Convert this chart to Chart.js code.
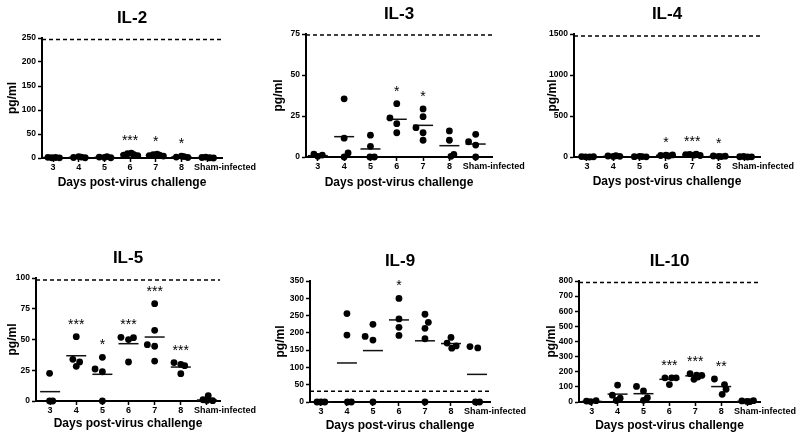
<!DOCTYPE html>
<html>
<head>
<meta charset="utf-8">
<script src="https://cdn.jsdelivr.net/npm/chart.js@4"></script>
<style>
  body { margin: 0; background: #fff; }
  #wrap { position: relative; width: 800px; height: 437px; }
  canvas { position: absolute; }
</style>
</head>
<body>
<div id="wrap">
  <canvas id="c1"></canvas>
  <canvas id="c2"></canvas>
  <canvas id="c3"></canvas>
  <canvas id="c4"></canvas>
  <canvas id="c5"></canvas>
  <canvas id="c6"></canvas>
</div>
<script>
// categories
const days = ['3', '4', '5', '6', '7', '8', 'Sham-infected'];

// IL-2
const il2Values = [[1.5, 0.5, 1, 0.3], [1, 3, 2, 0.5], [2, 1, 3, 0.5], [6, 9, 10, 7, 5], [5, 7, 8, 6, 4], [2, 4, 3, 1], [1, 2, 0.5, 0]];
const il2Jitter = [[-0.2, -0.05, 0.1, 0.25], [-0.2, 0, 0.1, 0.25], [-0.2, 0, 0.1, 0.25], [-0.25, -0.1, 0.05, 0.15, 0.3], [-0.25, -0.1, 0.05, 0.15, 0.3], [-0.2, 0, 0.1, 0.25], [-0.2, -0.05, 0.1, 0.25]];
const il2Medians = [1, 1.5, 1.5, 7.5, 6, 2.5, 0.8];
const il2Stars = ['', '', '', '***', '*', '*', ''];
const il2Limit = 247;
const il2Ticks = [0, 50, 100, 150, 200, 250];

// IL-3
const il3Values = [[1.8, 0.4, 1.2], [35.5, 11.5, 2.5, 0], [13.3, 6.5, 0, 0], [23.8, 32.5, 20.3, 14.8], [17.9, 29.3, 24.6, 14.8, 10.2], [15.9, 10.2, 1.6, 0.4], [9.3, 13.8, 7.3, 0]];
const il3Jitter = [[-0.15, 0, 0.17], [0, 0, 0.15, 0], [0, 0, -0.02, 0.15], [-0.26, 0, 0, 0], [-0.27, 0, 0, 0, 0], [0, 0, 0.17, 0.06], [-0.27, 0, 0, 0]];
const il3Medians = [0.8, 12.4, 4.9, 23, 19.3, 6.9, 7.9];
const il3Stars = ['', '', '', '*', '*', '', ''];
const il3Limit = 74.4;
const il3Ticks = [0, 25, 50, 75];

// IL-4
const il4Values = [[5, 2, 0, 3], [12, 6, 15, 8], [4, 8, 5, 2], [18, 22, 12, 25], [28, 32, 22, 35, 18], [12, 8, 5, 10], [3, 6, 0, 2]];
const il4Jitter = [[-0.2, -0.05, 0.1, 0.25], [-0.2, 0, 0.1, 0.25], [-0.2, 0, 0.1, 0.25], [-0.2, 0, 0.1, 0.25], [-0.25, -0.1, 0.05, 0.15, 0.3], [-0.2, 0, 0.1, 0.25], [-0.2, -0.05, 0.1, 0.25]];
const il4Medians = [2, 9, 4, 20, 28, 8, 2];
const il4Stars = ['', '', '', '*', '***', '*', ''];
const il4Limit = 1475;
const il4Ticks = [0, 500, 1000, 1500];

// IL-5
const il5Values = [[22.5, 0, 0], [52.3, 33.9, 31.7, 28.2], [26, 35.5, 23.8, 0], [51.8, 49.9, 51.5, 31.7], [45.8, 79.1, 57.5, 44.5, 32.5], [31.2, 29.8, 28.7, 22.2], [4.3, 1, 0.5, 0.3]];
const il5Jitter = [[-0.02, -0.02, 0.1], [0, -0.13, 0.13, 0], [-0.28, 0, 0, 0], [-0.29, 0, 0.19, 0], [-0.28, 0, 0, 0, 0], [-0.26, 0, 0.15, 0], [0.05, -0.15, 0, 0.22]];
const il5Medians = [7.6, 36.8, 21.7, 46.6, 52, 27.6, 0.8];
const il5Stars = ['', '***', '*', '***', '***', '***', ''];
const il5Limit = 98.4;
const il5Ticks = [0, 25, 50, 75, 100];

// IL-9
const il9Values = [[0, 0, 0], [255.8, 193.6, 0, 0], [189.6, 224.6, 179, 0], [299.5, 240.3, 216, 192.5], [253.8, 230.5, 213, 182.9, 0], [186.7, 170.3, 155.7, 162.3], [160.4, 156.5, 0, 0]];
const il9Jitter = [[-0.15, 0, 0.15], [0, 0, 0.02, 0.17], [-0.3, 0, 0, 0], [0, 0, 0, 0], [0, 0.13, 0, 0, 0], [0, -0.15, 0.03, 0.2], [-0.27, 0.03, -0.06, 0.1]];
const il9Medians = [0, 112.9, 148.7, 237.4, 177, 169, 79.9];
const il9Stars = ['', '', '', '*', '', '', ''];
const il9Limit = 31;
const il9Ticks = [0, 50, 100, 150, 200, 250, 300, 350];

// IL-10
const il10Values = [[6, 3, 9], [112, 45, 25, 10], [103, 73, 28, 11], [160, 160, 160, 115], [187, 178, 176, 165, 150], [152, 115, 84, 51], [7, 4, 2, 9]];
const il10Jitter = [[-0.2, -0.04, 0.17], [0, -0.2, 0.1, -0.05], [-0.27, 0, 0.15, 0], [-0.17, 0.09, 0.26, 0], [-0.2, 0.05, 0.25, 0.1, -0.05], [-0.26, 0.13, 0.19, 0.04], [-0.2, 0, 0.1, 0.25]];
const il10Medians = [4, 52, 55, 150, 173, 102, 4];
const il10Stars = ['', '', '', '***', '***', '**', ''];
const il10Limit = 790;
const il10Ticks = [0, 100, 200, 300, 400, 500, 600, 700, 800];

const FONT = '"Liberation Sans", Arial, sans-serif';

// canvas box, plot area edges, axis title offsets
const panels = [
  { id: 'c1', title: 'IL-2', values: il2Values, jitter: il2Jitter, medians: il2Medians, stars: il2Stars, limit: il2Limit, ticks: il2Ticks,
    box: [0, 0, 265, 200], area: [42, 38, 222, 158], xRange: [-0.43, 6.58], yTitleX: 13, xTitleY: 183 },
  { id: 'c2', title: 'IL-3', values: il3Values, jitter: il3Jitter, medians: il3Medians, stars: il3Stars, limit: il3Limit, ticks: il3Ticks,
    box: [265, 0, 270, 200], area: [306, 34, 492, 157], xRange: [-0.45, 6.62], yTitleX: 14, xTitleY: 183 },
  { id: 'c3', title: 'IL-4', values: il4Values, jitter: il4Jitter, medians: il4Medians, stars: il4Stars, limit: il4Limit, ticks: il4Ticks,
    box: [530, 0, 270, 200], area: [574, 34, 760, 157], xRange: [-0.49, 6.57], yTitleX: 23, xTitleY: 182 },
  { id: 'c4', title: 'IL-5', values: il5Values, jitter: il5Jitter, medians: il5Medians, stars: il5Stars, limit: il5Limit, ticks: il5Ticks,
    box: [0, 220, 265, 217], area: [36, 278, 220, 401], xRange: [-0.54, 6.5], yTitleX: 13, xTitleY: 424 },
  { id: 'c5', title: 'IL-9', values: il9Values, jitter: il9Jitter, medians: il9Medians, stars: il9Stars, limit: il9Limit, ticks: il9Ticks,
    box: [265, 220, 270, 217], area: [310, 281, 490, 402], xRange: [-0.42, 6.5], yTitleX: 16, xTitleY: 426 },
  { id: 'c6', title: 'IL-10', values: il10Values, jitter: il10Jitter, medians: il10Medians, stars: il10Stars, limit: il10Limit, ticks: il10Ticks,
    box: [530, 220, 270, 217], area: [579, 281, 760, 402], xRange: [-0.49, 6.5], yTitleX: 22, xTitleY: 426 }
];

// titles, significance stars and the offset "Sham-infected" label
const extras = {
  id: 'extras',
  afterDraw(chart, args, opts) {
    const ctx = chart.ctx;
    const { x, y } = chart.scales;
    const area = chart.chartArea;
    ctx.save();
    ctx.fillStyle = '#000';
    ctx.textAlign = 'center';
    ctx.textBaseline = 'middle';
    ctx.font = 'bold 17px ' + FONT;
    ctx.fillText(opts.title, (area.left + area.right) / 2, area.top - 20);

    ctx.font = '14px ' + FONT;
    ctx.textBaseline = 'alphabetic';
    opts.stars.forEach((s, i) => {
      if (!s) return;
      const top = Math.max(...opts.values[i]);
      ctx.fillText(s, x.getPixelForValue(i), y.getPixelForValue(top) - 8);
    });

    ctx.font = 'bold 9px ' + FONT;
    ctx.textBaseline = 'middle';
    ctx.fillText(days[6], x.getPixelForValue(6) + 18, x.top + 4 + 5.4);
    ctx.restore();
  }
};

panels.forEach(p => {
  const cv = document.getElementById(p.id);
  const [bx, by, bw, bh] = p.box;
  const [al, at, ar, ab] = p.area;
  cv.width = bw; cv.height = bh;
  cv.style.left = bx + 'px'; cv.style.top = by + 'px';

  const pts = [];
  p.values.forEach((arr, i) => arr.forEach((v, k) => pts.push({ x: i + p.jitter[i][k], y: v })));

  new Chart(cv, {
    type: 'scatter',
    data: {
      datasets: [
        {
          data: pts,
          pointRadius: 3.4,
          pointBackgroundColor: '#000',
          pointBorderWidth: 0,
          clip: false
        },
        {
          data: p.medians.map((m, i) => ({ x: i, y: m })),
          pointStyle: 'line',
          pointRadius: 10,
          pointBorderColor: '#111',
          pointBorderWidth: 1.5,
          clip: false
        },
        {
          type: 'line',
          data: [{ x: p.xRange[0], y: p.limit }, { x: p.xRange[1], y: p.limit }],
          borderColor: '#000',
          borderWidth: 1.5,
          borderDash: [4, 3],
          pointRadius: 0
        }
      ]
    },
    options: {
      responsive: false,
      animation: false,
      events: [],
      layout: { padding: { left: 0, top: at - by, right: bx + bw - ar, bottom: 0 } },
      plugins: {
        legend: { display: false },
        tooltip: { enabled: false },
        extras: { title: p.title, stars: p.stars, values: p.values }
      },
      scales: {
        x: {
          type: 'linear',
          min: p.xRange[0],
          max: p.xRange[1],
          afterBuildTicks: s => { s.ticks = days.map((d, i) => ({ value: i })); },
          afterFit: s => { s.height = by + bh - ab; },
          ticks: {
            callback: v => (Number.isInteger(v) && v < 6 ? days[v] : ''),
            color: '#000',
            padding: 0,
            maxRotation: 0,
            font: { family: FONT, size: 9, weight: 'bold' }
          },
          grid: { drawOnChartArea: false, tickLength: 4, tickWidth: 1.5, tickColor: '#000' },
          border: { color: '#000', width: 2 },
          title: {
            display: true,
            text: 'Days post-virus challenge',
            color: '#000',
            font: { family: FONT, size: 12, weight: 'bold' },
            padding: { top: 0, bottom: (by + bh - p.xTitleY) - 7.2 }
          }
        },
        y: {
          min: 0,
          max: p.ticks[p.ticks.length - 1],
          afterBuildTicks: s => { s.ticks = p.ticks.map(v => ({ value: v })); },
          afterFit: s => { s.width = al - bx; },
          ticks: {
            callback: v => String(v),
            color: '#000',
            padding: 2,
            font: { family: FONT, size: 8.5, weight: 'bold' }
          },
          grid: { drawOnChartArea: false, tickLength: 4, tickWidth: 1.5, tickColor: '#000' },
          border: { color: '#000', width: 2 },
          title: {
            display: true,
            text: 'pg/ml',
            color: '#000',
            font: { family: FONT, size: 12, weight: 'bold' },
            padding: { top: p.yTitleX - 7.2, bottom: 0 }
          }
        }
      }
    },
    plugins: [extras]
  });
});
</script>
</body>
</html>
